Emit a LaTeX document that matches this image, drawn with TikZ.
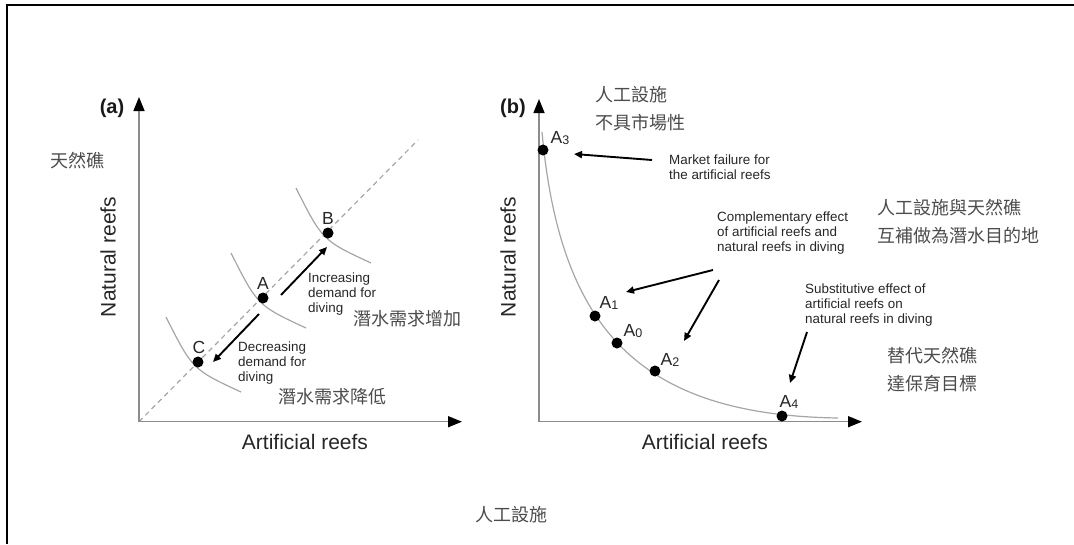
\documentclass[tikz,border=0pt]{standalone}
\usepackage{fontspec}
\setmainfont{Liberation Sans}
\newfontfamily\cjk{Noto Sans CJK TC}
\usetikzlibrary{arrows.meta}
\tikzset{
 ann/.style={font=\fontsize{13.4}{15}\selectfont, text=black!85, align=left, inner sep=0pt, anchor=west},
 cjkt/.style={font=\cjk\fontsize{18}{28}\selectfont, text=black!70, align=left, inner sep=0pt, anchor=west},
 axlab/.style={font=\fontsize{21}{25}\selectfont, text=black!85, inner sep=0pt},
 panlab/.style={font=\bfseries\fontsize{20}{22}\selectfont, text=black!90, inner sep=0pt},
 dot/.style={circle, fill=black, inner sep=0pt, minimum size=11pt},
 ptlab/.style={font=\fontsize{17.5}{20}\selectfont, text=black!85, inner sep=0pt},
 axisline/.style={draw=black!45, line width=1.5pt, -{Triangle[length=14pt,width=11pt,color=black]}},
 annarrow/.style={draw=black, line width=1.9pt, -{Triangle[length=8pt,width=7pt]}},
 indiff/.style={draw=black!35, line width=1.2pt},
 diag/.style={draw=black!35, line width=1.2pt, dash pattern=on 5pt off 4pt},
 framel/.style={draw=black, line width=2pt},
}
\begin{document}
\begin{tikzpicture}[x=1pt,y=-1pt]
\useasboundingbox (0,0) rectangle (1074,544);
% frame (top and left only)
\coordinate (fTL) at (7,5);
\coordinate (fTR) at (1074,5);
\coordinate (fBL) at (7,544);
\draw[framel] (fTR) -- (fTL) -- (fBL);

% ---------------- Panel (a) ----------------
\coordinate (oa) at (139,421.7);
\coordinate (yaTip) at (139,97);
\coordinate (xaTip) at (462,421.7);
\coordinate (dEnd) at (418,140);
\draw[diag] (oa) -- (dEnd);
\draw[axisline] (oa) -- (yaTip);
\draw[axisline] (oa) -- (xaTip);
\node[panlab] (labA) at (112,108) {(a)};
\node[axlab, rotate=90] (nra) at (108,257) {Natural reefs};
\node[axlab] (ara) at (305,442) {Artificial reefs};
\node[cjkt] (tianran) at (50,161) {天然礁};

% indifference curves
\foreach \px/\py/\nm in {328/233/B, 263/298/A, 198/362/C}{
  \draw[indiff] (\px-32,\py-45) .. controls (\px-5.5,\py+7.5) .. (\px+43,\py+30);
}
\node[dot] (pB) at (328,233) {};
\node[dot] (pA) at (263,298) {};
\node[dot] (pC) at (198,362) {};
\node[ptlab] (lB) at (328,218) {B};
\node[ptlab] (lA) at (263,283) {A};
\node[ptlab] (lC) at (199,347) {C};

\coordinate (incS) at (281,295);
\coordinate (incE) at (327,247);
\draw[annarrow] (incS) -- (incE);
\coordinate (decS) at (259,314);
\coordinate (decE) at (213,362);
\draw[annarrow] (decS) -- (decE);
\node[ann] (incT) at (308,294) {Increasing\\demand for\\diving};
\node[ann] (decT) at (238,363) {Decreasing\\demand for\\diving};
\node[cjkt] (incC) at (353,319) {潛水需求增加};
\node[cjkt] (decC) at (278,397) {潛水需求降低};
\node[cjkt] (rengong) at (475,515) {人工設施};

% ---------------- Panel (b) ----------------
\coordinate (ob) at (539,421.7);
\coordinate (ybTip) at (539,99);
\coordinate (xbTip) at (862,421.7);
\draw[axisline] (ob) -- (ybTip);
\draw[axisline] (ob) -- (xbTip);
\node[panlab] (labB) at (513,108) {(b)};
\node[axlab, rotate=90] (nrb) at (508,257) {Natural reefs};
\node[axlab] (arb) at (705,442) {Artificial reefs};

\coordinate (cS) at (542,132);
\coordinate (cE) at (838,418);
\draw[indiff] (cS) .. controls (560,330) and (640,415) .. (cE);

\node[dot] (a3) at (543,150) {};
\node[dot] (a1) at (595,316) {};
\node[dot] (a0) at (617,343) {};
\node[dot] (a2) at (655,371) {};
\node[dot] (a4) at (782,416) {};
\newcommand{\Asub}[1]{A\raisebox{-1.5pt}{\fontsize{12.5}{13}\selectfont #1}}
\node[ptlab] (la3) at (560,138) {\Asub{3}};
\node[ptlab] (la1) at (609,303) {\Asub{1}};
\node[ptlab] (la0) at (633,331) {\Asub{0}};
\node[ptlab] (la2) at (670,360) {\Asub{2}};
\node[ptlab] (la4) at (789,402) {\Asub{4}};

\node[cjkt] (c1) at (595,109) {人工設施\\不具市場性};
\node[cjkt] (c2) at (877,222) {人工設施與天然礁\\互補做為潛水目的地};
\node[cjkt] (c3) at (887,370) {替代天然礁\\達保育目標};

\node[ann] (mf) at (669,167) {Market failure for\\the artificial reefs};
\node[ann] (ce) at (717,233) {Complementary effect\\of artificial reefs and\\natural reefs in diving};
\node[ann] (se) at (805,305) {Substitutive effect of\\artificial reefs on\\natural reefs in diving};

\coordinate (mfS) at (652,160);
\coordinate (mfE) at (574,154);
\draw[annarrow] (mfS) -- (mfE);
\coordinate (ce1S) at (713,270);
\coordinate (ce1E) at (626,292);
\draw[annarrow] (ce1S) -- (ce1E);
\coordinate (ce2S) at (719,280);
\coordinate (ce2E) at (684,341);
\draw[annarrow] (ce2S) -- (ce2E);
\coordinate (seS) at (807,332);
\coordinate (seE) at (790,383);
\draw[annarrow] (seS) -- (seE);
\end{tikzpicture}
\end{document}
